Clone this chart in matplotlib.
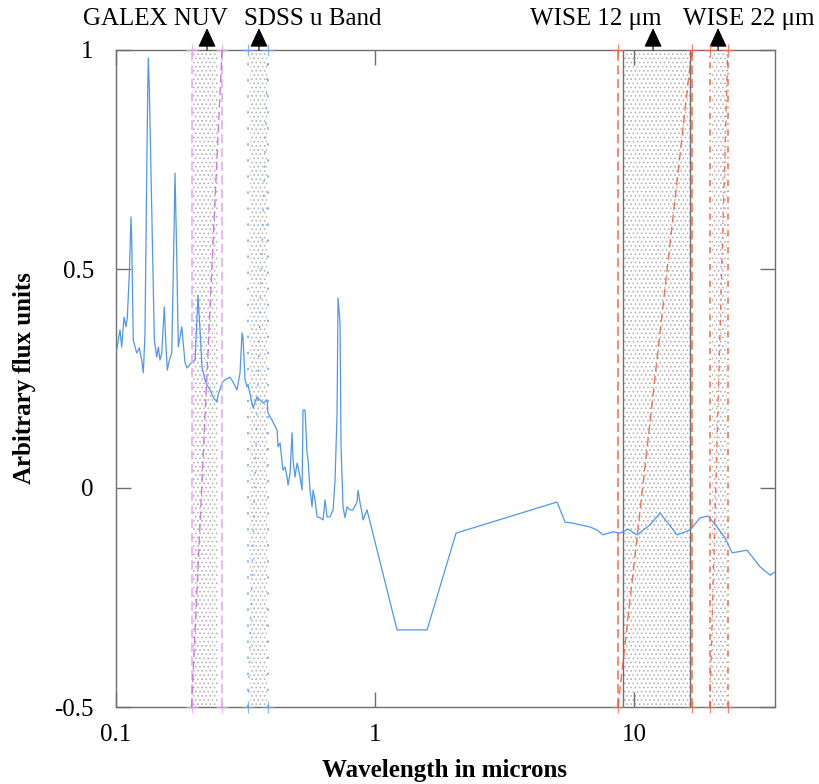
import matplotlib
matplotlib.use('Agg')
import matplotlib.pyplot as plt
import numpy as np

plt.rcParams['font.family'] = ['Liberation Serif', 'DejaVu Serif']
plt.rcParams['hatch.linewidth'] = 0.7

# spectrum (wavelength in microns, arbitrary flux)
wave = [0.1006, 0.1036, 0.1052, 0.1074, 0.1093, 0.1106, 0.1126, 0.1143, 0.1150, 0.1166,
        0.1202, 0.1230, 0.1257, 0.1275, 0.1294, 0.1314, 0.1326, 0.1333, 0.1345, 0.1362,
        0.1386, 0.1406, 0.1436, 0.1457, 0.1478, 0.1502, 0.1536, 0.1560, 0.1578, 0.1607,
        0.1641, 0.1664, 0.1690, 0.1716, 0.1740, 0.1794, 0.1847, 0.1880, 0.1965, 0.2019,
        0.2073, 0.2110, 0.2148, 0.2206, 0.2246, 0.2307, 0.2369, 0.2455, 0.2477, 0.2566,
        0.2636, 0.2755, 0.2830, 0.2932, 0.3012, 0.3066, 0.3093, 0.3149, 0.3205, 0.3234,
        0.3351, 0.3381, 0.3503, 0.3597, 0.3695, 0.3829, 0.3863, 0.4003, 0.4185, 0.4222,
        0.4298, 0.4375, 0.4414, 0.4494, 0.4574, 0.4615, 0.4698, 0.4782, 0.4825, 0.4911,
        0.4999, 0.5044, 0.5135, 0.5227, 0.5273, 0.5368, 0.5464, 0.5513, 0.5612, 0.5713,
        0.5764, 0.5867, 0.5972, 0.6134, 0.6300, 0.6413, 0.6528, 0.6705, 0.6886, 0.7010,
        0.7135, 0.7197, 0.7326, 0.7392, 0.7524, 0.7659, 0.7797, 0.8008, 0.8224, 0.8522,
        0.8598, 0.8752, 0.8909, 0.8989, 0.9314, 1.216, 1.588, 2.055, 5.043, 5.415,
        5.763, 6.764, 7.197, 7.591, 8.297, 8.830, 9.481, 10.27, 11.53, 12.60,
        14.66, 16.45, 17.98, 19.31, 20.92, 22.46, 23.90, 27.31, 30.66, 33.50, 35.0]
flux = [0.315, 0.361, 0.322, 0.390, 0.368, 0.390, 0.491, 0.619, 0.566, 0.338,
        0.308, 0.320, 0.292, 0.263, 0.354, 0.719, 0.909, 0.982, 0.909, 0.749,
        0.527, 0.338, 0.299, 0.322, 0.292, 0.308, 0.413, 0.322, 0.269, 0.292,
        0.308, 0.491, 0.719, 0.527, 0.322, 0.368, 0.286, 0.274, 0.288, 0.292,
        0.440, 0.361, 0.276, 0.247, 0.235, 0.224, 0.208, 0.196, 0.212, 0.240,
        0.247, 0.253, 0.242, 0.224, 0.263, 0.354, 0.342, 0.247, 0.231, 0.235,
        0.194, 0.183, 0.208, 0.201, 0.194, 0.201, 0.171, 0.155, 0.132, 0.094,
        0.103, 0.059, 0.041, 0.048, 0.025, 0.007, 0.034, 0.126, 0.064, 0.025,
        0.057, 0.048, 0.025, -0.005, 0.178, 0.178, 0.080, 0.064, -0.005, -0.043,
        -0.005, -0.027, -0.066, -0.068, -0.073, -0.027, -0.066, -0.066, -0.050, 0.018,
        0.171, 0.434, 0.377, 0.094, -0.043, -0.068, -0.043, -0.050, -0.050, -0.032,
        -0.005, -0.034, -0.057, -0.073, -0.050, -0.324, -0.324, -0.103, -0.032, -0.078,
        -0.080, -0.089, -0.096, -0.107, -0.100, -0.103, -0.094, -0.107, -0.084, -0.057,
        -0.107, -0.096, -0.068, -0.064, -0.089, -0.114, -0.148, -0.142, -0.180, -0.199, -0.192]

# filter bands
band_names = ['GALEX NUV', 'SDSS u Band', 'WISE 12 μm', 'WISE 22 μm']
band_lo = [0.1957, 0.3234, 8.67, 19.6]       # outer edges (lines)
band_hi = [0.2566, 0.3863, 16.7, 23.0]
shade_lo = [0.1983, 0.3292, 9.07, 20.0]      # shaded part
shade_hi = [0.2477, 0.3829, 16.45, 22.86]
band_center = [0.2246, 0.3564, 11.84, 21.1]
label_x = [0.1415, 0.5738, 7.10, 27.8]
band_colors = ['#e6a6f2', '#6aa8f2', '#f26a4a', '#f26a4a']
diag_colors = ['#c566d6', '#5b9bea', '#ee5a3e', '#ee5a3e']
band_styles = [(0, (6, 3)), (0, (1.5, 9)), (0, (6, 3)), (0, (4, 3, 1, 3))]

fig = plt.figure(figsize=(8.19, 7.84), dpi=100)
ax = fig.add_axes([116 / 819, 1 - 707 / 784, 659 / 819, 657 / 784])

ymin, ymax = -0.5, 1.0

for i in range(len(band_names)):
    ax.axvspan(shade_lo[i], shade_hi[i], facecolor='white', edgecolor='#b4b4b4',
               hatch='....', lw=0, zorder=1)

# WISE 12 shaded part has solid grey edges
ax.vlines([shade_lo[2], shade_hi[2]], ymin, ymax, colors='#707070', lw=1.0, zorder=2)

ax.plot(wave, flux, color='#5097ec', lw=0.9, zorder=3)

for i in range(len(band_names)):
    for xb in (band_lo[i], band_hi[i]):
        ax.plot([xb, xb], [ymin, ymax], color=band_colors[i], lw=1.1,
                linestyle=band_styles[i], zorder=4, clip_on=False)
        ax.plot([xb, xb], [ymin, ymax], marker='+', ms=9, mew=0.9, ls='none',
                color=band_colors[i], alpha=0.8, zorder=4, clip_on=False)
    ax.plot([band_lo[i], band_hi[i]], [ymin, ymax], color=diag_colors[i], lw=1.0,
            linestyle=band_styles[i], alpha=0.85, zorder=4)
    ax.annotate('', xy=(band_center[i], 1.05), xytext=(band_center[i], ymax),
                arrowprops=dict(arrowstyle='-|>,head_length=0.6,head_width=0.28',
                                color='black', lw=0.8, shrinkA=0, shrinkB=0,
                                mutation_scale=20),
                annotation_clip=False)
    ax.text(label_x[i], 1.057, band_names[i], ha='center', va='baseline', fontsize=18)

ax.set_xscale('log')
ax.set_xlim(0.1, 35.0)
ax.set_ylim(ymin, ymax)
ax.set_xticks([0.1, 1, 10])
ax.set_xticklabels(['0.1', '1', '10'])
ax.set_yticks([-0.5, 0, 0.5, 1])
ax.set_yticklabels(['-0.5', '0', '0.5', '1'])
ax.minorticks_off()
ax.tick_params(direction='in', length=11, width=1, color='#6e6e6e', labelsize=18,
               top=True, right=True, pad=12)
ax.tick_params(axis='y', pad=16)
for s in ax.spines.values():
    s.set_color('#6e6e6e')
    s.set_linewidth(1)

fig.text(445 / 819, 1 - 777 / 784, 'Wavelength in microns', ha='center', va='baseline',
         fontsize=18, fontweight='bold')
fig.text(25 / 819, 1 - 378 / 784, 'Arbitrary flux units', ha='center', va='center',
         rotation=90, fontsize=18, fontweight='bold')

fig.savefig('out.png', dpi=100)
